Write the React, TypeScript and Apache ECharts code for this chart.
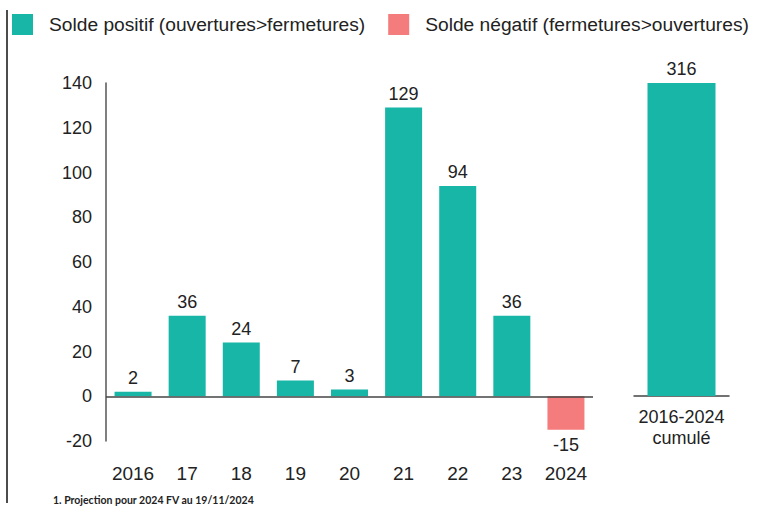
import React, { useEffect, useRef } from "react";
import * as echarts from "echarts";

const categories = ["2016", "17", "18", "19", "20", "21", "22", "23", "2024"];
const balances = [2, 36, 24, 7, 3, 129, 94, 36, -15];
const cumulativeCategory = ["2016-2024\ncumulé"];
const cumulativeValue = 316;
const yTicks = { min: -20, max: 140, interval: 20 };
const legendNames = ["Solde positif (ouvertures>fermetures)", "Solde négatif (fermetures>ouvertures)"];
const footnote = "1. Projection pour 2024 FV au 19/11/2024";

const TEAL = "#17b6a7";
const SALMON = "#f47c7c";
const TEXT = "#222222";
const FONT = "'Liberation Sans', Arial, sans-serif";

export default function App() {
  const ref = useRef<HTMLDivElement>(null);

  useEffect(() => {
    if (!ref.current) return;
    const chart = echarts.init(ref.current, null, { renderer: "svg" });
    const positive = balances.map((v) => (v >= 0 ? v : "-"));
    const negative = balances.map((v) => (v < 0 ? v : "-"));
    const labelStyle = { color: TEXT, fontSize: 18, fontFamily: FONT };

    chart.setOption({
      animation: false,
      textStyle: { fontFamily: FONT, color: TEXT },
      legend: {
        data: legendNames,
        left: 12,
        top: 14,
        padding: 0,
        icon: "rect",
        itemWidth: 21,
        itemHeight: 21,
        itemGap: 23,
        textStyle: { fontSize: 19.2, color: TEXT, fontFamily: FONT, padding: [0, 0, 0, 11] },
        selectedMode: false,
      },
      grid: [
        { left: 106, right: 170, top: 83, bottom: 80 },
        { left: 634, width: 95, top: 83, bottom: 125 },
      ],
      xAxis: [
        {
          type: "category",
          gridIndex: 0,
          data: categories,
          axisLine: { show: false },
          axisTick: { show: false },
          axisLabel: { ...labelStyle, fontSize: 19, margin: 23, interval: 0 },
        },
        {
          type: "category",
          gridIndex: 1,
          data: cumulativeCategory,
          axisLine: { show: true, onZero: false, lineStyle: { color: "#444", width: 1.5 } },
          axisTick: { show: false },
          axisLabel: { ...labelStyle, margin: 10, lineHeight: 21, interval: 0 },
        },
      ],
      yAxis: [
        {
          type: "value",
          gridIndex: 0,
          min: yTicks.min,
          max: yTicks.max,
          interval: yTicks.interval,
          axisLine: { show: true, lineStyle: { color: "#555", width: 1.5 } },
          axisTick: { show: false },
          splitLine: { show: false },
          axisLabel: { ...labelStyle, margin: 14 },
        },
        {
          type: "value",
          gridIndex: 1,
          min: 0,
          max: yTicks.max,
          interval: yTicks.interval,
          show: false,
          splitLine: { show: false },
        },
      ],
      series: [
        {
          name: legendNames[0],
          type: "bar",
          xAxisIndex: 0,
          yAxisIndex: 0,
          data: positive,
          barWidth: 37,
          barGap: "-100%",
          itemStyle: { color: TEAL },
          label: { show: true, position: "top", distance: 5, ...labelStyle },
          markLine: {
            silent: true,
            symbol: "none",
            label: { show: false },
            lineStyle: { color: "#444", width: 1.5, type: "solid" },
            data: [{ yAxis: 0 }],
          },
        },
        {
          name: legendNames[1],
          type: "bar",
          xAxisIndex: 0,
          yAxisIndex: 0,
          data: negative,
          barWidth: 37,
          barGap: "-100%",
          itemStyle: { color: SALMON },
          label: { show: true, position: "bottom", distance: 6, ...labelStyle },
        },
        {
          name: "cumul",
          type: "bar",
          xAxisIndex: 1,
          yAxisIndex: 1,
          data: [Math.min(cumulativeValue, yTicks.max)],
          barWidth: 68,
          itemStyle: { color: TEAL },
          label: {
            show: true,
            position: "top",
            distance: 5,
            ...labelStyle,
            formatter: () => String(cumulativeValue),
          },
        },
      ],
      graphic: [
        {
          type: "line",
          shape: { x1: 7, y1: 10, x2: 7, y2: 503 },
          style: { stroke: "#111", lineWidth: 1.5 },
          silent: true,
        },
        {
          type: "text",
          left: 53,
          top: 494,
          style: {
            text: footnote,
            fontSize: 10.5,
            fontWeight: "bold",
            fontFamily: "Lato, sans-serif",
            fill: "#222",
          },
        },
      ],
    });
    return () => chart.dispose();
  }, []);

  return (
    <div
      ref={ref}
      style={{ position: "fixed", left: 0, top: 0, width: 763, height: 521, background: "#fff" }}
    />
  );
}
